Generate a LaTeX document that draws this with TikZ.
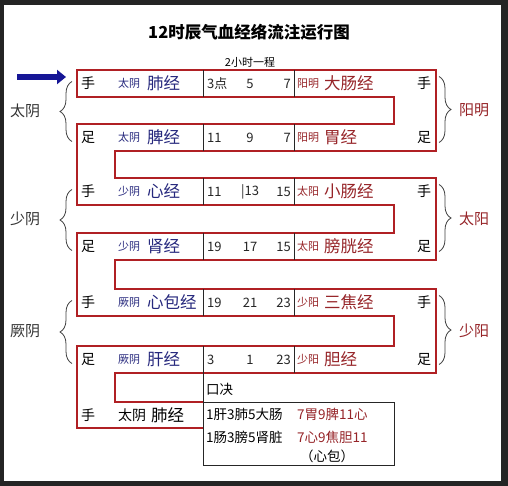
\documentclass[tikz,border=0pt]{standalone}
\usepackage{fontspec}
\setmainfont{Noto Sans CJK SC}
\usetikzlibrary{arrows.meta, decorations.pathreplacing}
\definecolor{bandred}{RGB}{176,32,36}
\definecolor{meriblue}{RGB}{38,40,125}
\definecolor{merired}{RGB}{150,36,40}
\definecolor{arrowblue}{RGB}{22,22,150}
\definecolor{framegray}{RGB}{36,36,36}

\begin{document}
\begin{tikzpicture}[x = 1pt, y = -1pt,
    every node/.style = {inner sep = 0},
    band/.style = {line width = 2.8pt, bandred, line join = miter},
    rule/.style = {line width = .8pt, black!85},
    brace/.style = {decorate, decoration = {brace, amplitude = 12pt},
      line width = .8pt, black!75},
    hand/.style = {font = \fontsize{14}{14}\selectfont},
    tag/.style = {font = \fontsize{11}{11}\selectfont},
    num/.style = {font = \fontsize{13}{13}\selectfont, black!85},
    mer/.style = {font = \fontsize{16.5}{16.5}\selectfont, anchor = west},
    side/.style = {font = \fontsize{15}{15}\selectfont},
    key/.style = {font = \fontsize{13.5}{13.5}\selectfont}]
    \fill [framegray] (0,0) rectangle (508,486);
    \fill [white] (4,5) rectangle (501,481);
    \useasboundingbox (0,0) rectangle (508,486);
    \node [font = \fontsize{16.5}{16.5}\selectfont\bfseries] (title)
      at (249,32) {12时辰气血经络流注运行图};
    \node [tag] (step) at (250,62) {2小时一程};
    \coordinate (tail) at (17,77);
    \coordinate (tip) at (66,77);
    \draw [line width = 6.5pt, arrowblue,
      -{Triangle[length = 9pt, width = 14pt]}] (tail) -- (tip);
    \draw [band] (203,428) -- (77,428) -- (77,346) -- (394,346) -- (394,316)
      -- (77,316) -- (77,233) -- (394,233) -- (394,205) -- (77,205)
      -- (77,124) -- (394,124) -- (394,97) -- (77,97) -- (77,70)
      -- (436,70) -- (436,151) -- (115,151) -- (115,178) -- (436,178)
      -- (436,260) -- (115,260) -- (115,289) -- (436,289) -- (436,373)
      -- (115,373) -- (115,402) -- (203,402);
    \foreach \ty/\hd/\ltag/\lmer/\na/\nb/\nc/\rtag/\rmer [count = \row] in
      {70/手/太阴/肺经/3点/5/7/阳明/大肠经,
       124/足/太阴/脾经/11/9/7/阳明/胃经,
       178/手/少阴/心经/11/|13/15/太阳/小肠经,
       233/足/少阴/肾经/19/17/15/太阳/膀胱经,
       289/手/厥阴/心包经/19/21/23/少阳/三焦经,
       346/足/厥阴/肝经/3/1/23/少阳/胆经}
    {
      \node [hand] (hand\row) at (88,\ty+13.5) {\hd};
      \node [tag, meriblue] (ltag\row) at (129,\ty+13.5) {\ltag};
      \node [mer, meriblue] (lmer\row) at (147,\ty+13.5) {\lmer};
      \node [num, anchor = west] (na\row) at (207,\ty+13.5) {\na};
      \node [num] (nb\row) at (250,\ty+13.5) {\nb};
      \node [num, anchor = east] (nc\row) at (291,\ty+13.5) {\nc};
      \node [tag, merired, anchor = west] (rtag\row) at (297,\ty+13.5) {\rtag};
      \node [mer, merired] (rmer\row) at (324,\ty+13.5) {\rmer};
      \node [hand] (rhand\row) at (424,\ty+13.5) {\hd};
      \draw [rule] (203,\ty) -- (203,\ty+27) (294,\ty) -- (294,\ty+27);
    }
    \node [hand] (hand7) at (88,415) {手};
    \node [font = \fontsize{14}{14}\selectfont] (ltag7) at (132,415) {太阴};
    \node [mer] (lmer7) at (151,415) {肺经};
    \foreach \ya/\yb/\lside/\rside [count = \pair] in
      {83.5/137.5/太阴/阳明, 191.5/246.5/少阴/太阳, 302.5/359.5/厥阴/少阳}
    {
      \draw [brace] (72,\yb+4) -- (72,\ya-2);
      \draw [brace] (439,\ya-7) -- (439,\yb+5);
      \node [side, black!80] (lside\pair) at (25,{(\ya+\yb)/2}) {\lside};
      \node [side, merired] (rside\pair) at (474,{(\ya+\yb)/2}) {\rside};
    }
    \draw [rule] (203,373) -- (203,465) -- (394,465) -- (394,402) -- (203,402);
    \node [key, anchor = west] (kjue) at (206,389) {口决};
    \node [key, anchor = west] (key1) at (206,414) {1肝3肺5大肠};
    \node [key, merired, anchor = west] (key1r) at (297,414) {7胃9脾11心};
    \node [key, anchor = west] (key2) at (206,437) {1肠3膀5肾脏};
    \node [key, merired, anchor = west] (key2r) at (297,437) {7心9焦胆11};
    \node [key] (key3) at (327,456) {（心包）};
  \end{tikzpicture}
\end{document}
